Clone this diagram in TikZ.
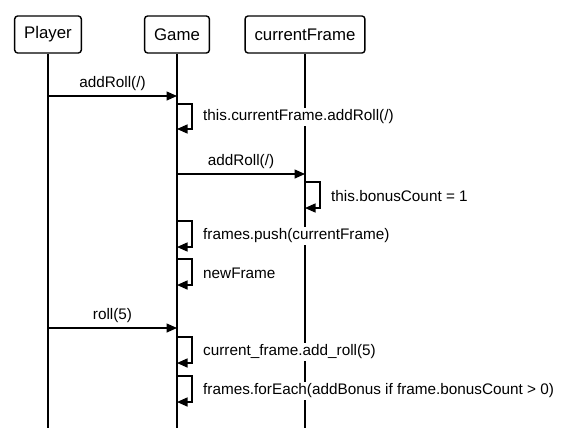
\documentclass[tikz,border=0pt]{standalone}
\usepackage{fontspec}
\setmainfont{Liberation Sans}
\usetikzlibrary{arrows.meta,positioning}
\definecolor{ink}{HTML}{000000}
\definecolor{paper}{HTML}{FFFFFF}
\tikzset{
  actor/.style={draw=ink, line width=1.4pt, rounded corners=3pt, fill=paper, minimum height=37pt, inner xsep=9.5pt, font=\fontsize{16.8}{19}\selectfont},
  life/.style={draw=ink, line width=1.4pt},
  msg/.style={draw=ink, line width=1.4pt, -{Triangle[length=10.5pt,width=9pt]}},
  lab/.style={text=ink, font=\fontsize{15.3}{18}\selectfont, inner sep=1pt},
  labfill/.style={lab, fill=paper, inner sep=2pt}
}

\begin{document}
\begin{tikzpicture}[x=1pt,y=-1pt]
  \useasboundingbox (0,0) rectangle (567,442);
  \node[actor] (player) at (48,34.5) {Player};
  \node[actor] (game) at (177,34.5) {Game};
  \node[actor] (frame) at (305,34.5) {currentFrame};
  \coordinate (end) at (0,428);

  \draw[life] (player) -- (player |- end);
  \draw[life] (game) -- (game |- end);
  \draw[life] (frame) -- (frame |- end);

  % addRoll(/)
  \coordinate (m1) at (0,96);
  \draw[msg] (player |- m1) -- (game |- m1) node[lab,midway,above=4pt] (m1lab) {addRoll(/)};
  \coordinate (s1a) at (0,104);
  \coordinate (s1b) at (0,129);
  \draw[msg] (game |- s1a) -- ++(15,0) |- (game |- s1b);
  \node[labfill,anchor=west] (s1lab) at (201,117) {this.currentFrame.addRoll(/)};

  \coordinate (m2) at (0,174);
  \draw[msg] (game |- m2) -- (frame |- m2) node[lab,midway,above=4pt] (m2lab) {addRoll(/)};
  \coordinate (s2a) at (0,182);
  \coordinate (s2b) at (0,208);
  \draw[msg] (frame |- s2a) -- ++(15,0) |- (frame |- s2b);
  \node[labfill,anchor=west] (s2lab) at (329,196) {this.bonusCount = 1};

  \coordinate (s3a) at (0,221);
  \coordinate (s3b) at (0,247);
  \draw[msg] (game |- s3a) -- ++(15,0) |- (game |- s3b);
  \node[labfill,anchor=west] (s3lab) at (201,236) {frames.push(currentFrame)};

  \coordinate (s4a) at (0,259);
  \coordinate (s4b) at (0,285);
  \draw[msg] (game |- s4a) -- ++(15,0) |- (game |- s4b);
  \node[labfill,anchor=west] (s4lab) at (201,273) {newFrame};

  % roll(5)
  \coordinate (m3) at (0,328);
  \draw[msg] (player |- m3) -- (game |- m3) node[lab,midway,above=4pt] (m3lab) {roll(5)};
  \coordinate (s5a) at (0,337);
  \coordinate (s5b) at (0,363);
  \draw[msg] (game |- s5a) -- ++(15,0) |- (game |- s5b);
  \node[labfill,anchor=west] (s5lab) at (201,352) {current\_frame.add\_roll(5)};

  \coordinate (s6a) at (0,376);
  \coordinate (s6b) at (0,402);
  \draw[msg] (game |- s6a) -- ++(15,0) |- (game |- s6b);
  \node[labfill,anchor=west] (s6lab) at (201,391) {frames.forEach(addBonus if frame.bonusCount > 0)};
\end{tikzpicture}
\end{document}
